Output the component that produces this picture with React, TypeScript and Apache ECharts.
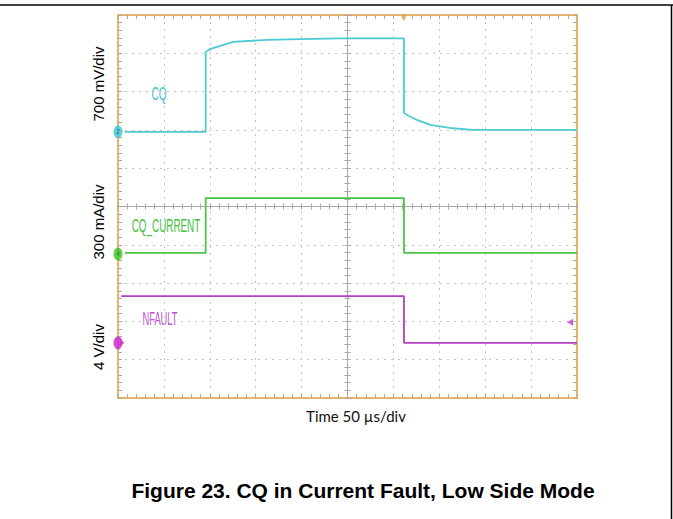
import React, { useEffect, useRef } from "react";
import * as echarts from "echarts";

// Oscilloscope traces, in screen divisions (x: -5..5 time div, y: -5..5 vertical div)
const cqX = [-4.85, -3.09, -3.09, -3.0, -2.49, -1.75, -1.03, -0.16, 1.23, 1.23, 1.3, 1.51, 1.8, 2.23, 2.73, 5.0];
const cqY = [1.95, 1.95, 4.03, 4.11, 4.3, 4.35, 4.37, 4.39, 4.39, 2.45, 2.39, 2.26, 2.13, 2.05, 2.0, 2.0];

const curX = [-4.85, -3.09, -3.09, 1.23, 1.23, 5.0];
const curY = [-1.21, -1.21, 0.22, 0.22, -1.21, -1.21];

const nfX = [-4.93, 1.23, 1.23, 5.0];
const nfY = [-2.34, -2.34, -3.56, -3.56];

// channel ground markers (left edge) and level markers
const chanNames = ["2", "4", ""];
const chanLevels = [1.95, -1.24, -3.56];
const chanColors = ["#3ec8d6", "#3fc41f", "#cc22cc"];
const trigLevel = [4.85, -3.02];
const trigTime = [1.23, 5];

const timeLabel = "Time 50 \u00b5s/div";
const scaleLabels = ["700 mV/div", "300 mA/div", "4 V/div"];
const caption = "Figure 23. CQ in Current Fault, Low Side Mode";

const ORANGE = "#e6b46c";
const CYAN = "#4ccbd5";
const GREEN = "#4cc446";
const MAGENTA = "#b23fc4";

const pair = (xs: number[], ys: number[]) => xs.map((x, i) => [x, ys[i]]);

export default function App() {
  const ref = useRef<HTMLDivElement>(null);
  useEffect(() => {
    if (!ref.current) return;
    const chart = echarts.init(ref.current, undefined, { renderer: "svg" });
    const gridBox = { left: 118, top: 15, width: 459, height: 383 };
    const borderAxis = (extra: any) => ({
      type: "value",
      min: -5,
      max: 5,
      interval: 1,
      axisLine: { show: true, onZero: false, lineStyle: { color: ORANGE, width: 2 } },
      axisTick: { show: true, inside: true, length: 4, lineStyle: { color: "#b9a58a", width: 1 } },
      minorTick: { show: true, splitNumber: 5, length: 4, lineStyle: { color: "#b9a58a", width: 1 } },
      axisLabel: { show: false },
      splitLine: { show: false },
      ...extra,
    });
    const centerAxis = (extra: any) => ({
      type: "value",
      min: -5,
      max: 5,
      interval: 1,
      axisLine: { show: true, onZero: true, lineStyle: { color: "#a8a8a8", width: 1 } },
      axisTick: { show: true, length: 3, lineStyle: { color: "#a8a8a8", width: 1 } },
      minorTick: { show: true, splitNumber: 5, length: 3, lineStyle: { color: "#a8a8a8", width: 1 } },
      axisLabel: { show: false },
      splitLine: { show: false },
      ...extra,
    });
    const grid = { lineStyle: { color: "#c4c4c4", width: 1, type: [2, 5] } };
    const labelFont = '19px "Liberation Sans", Arial, sans-serif';
    chart.setOption({
      animation: false,
      backgroundColor: "#ffffff",
      grid: [gridBox, gridBox, gridBox],
      xAxis: [
        borderAxis({ gridIndex: 0, position: "bottom", splitLine: { show: true, ...grid } }),
        borderAxis({ gridIndex: 0, position: "top" }),
        centerAxis({ gridIndex: 1, position: "bottom", axisTick: { show: true, inside: true, length: 3, lineStyle: { color: "#a8a8a8" } } }),
        centerAxis({ gridIndex: 2, position: "bottom", axisTick: { show: true, inside: false, length: 3, lineStyle: { color: "#a8a8a8" } } }),
      ],
      yAxis: [
        borderAxis({ gridIndex: 0, position: "left", splitLine: { show: true, ...grid } }),
        borderAxis({ gridIndex: 0, position: "right" }),
        centerAxis({ gridIndex: 1, position: "left", axisTick: { show: true, inside: true, length: 3, lineStyle: { color: "#a8a8a8" } } }),
        centerAxis({ gridIndex: 2, position: "left", axisTick: { show: true, inside: false, length: 3, lineStyle: { color: "#a8a8a8" } } }),
      ],
      series: [
        {
          name: "CQ",
          type: "line",
          xAxisIndex: 0,
          yAxisIndex: 0,
          data: pair(cqX, cqY),
          symbol: "none",
          lineStyle: { color: CYAN, width: 1.8 },
          z: 5,
        },
        {
          name: "CQ_CURRENT",
          type: "line",
          xAxisIndex: 0,
          yAxisIndex: 0,
          data: pair(curX, curY),
          symbol: "none",
          lineStyle: { color: GREEN, width: 1.8 },
          z: 5,
        },
        {
          name: "NFAULT",
          type: "line",
          xAxisIndex: 0,
          yAxisIndex: 0,
          data: pair(nfX, nfY),
          symbol: "none",
          lineStyle: { color: MAGENTA, width: 1.8 },
          z: 5,
        },
        {
          name: "markers",
          type: "scatter",
          xAxisIndex: 0,
          yAxisIndex: 0,
          clip: false,
          z: 8,
          data: chanLevels.map((v, i) => ({
            value: [-5, v],
            symbol: "circle",
            symbolSize: [9, 13],
            itemStyle: { color: chanColors[i] },
            label: {
              show: chanNames[i] !== "",
              formatter: chanNames[i],
              position: "inside",
              fontSize: 7,
              color: "#1d5f70",
            },
          })),
        },
        {
          name: "levels",
          type: "scatter",
          xAxisIndex: 0,
          yAxisIndex: 0,
          clip: false,
          z: 8,
          data: [
            { value: trigLevel, symbol: "triangle", symbolRotate: 90, symbolSize: [7, 6], itemStyle: { color: "#cc33cc" } },
            { value: trigTime, symbol: "triangle", symbolRotate: 180, symbolSize: [6, 7], symbolOffset: [0, 3], itemStyle: { color: "#e8a040" } },
            { value: [-4.9, chanLevels[2]], symbol: "triangle", symbolRotate: -90, symbolSize: [5, 4], itemStyle: { color: "#cc22cc" } },
          ],
        },
      ],
      graphic: [
        { type: "line", shape: { x1: 0, y1: 5, x2: 673, y2: 5 }, style: { stroke: "#000", lineWidth: 1.5 } },
        { type: "line", shape: { x1: 671.5, y1: 5, x2: 671.5, y2: 519 }, style: { stroke: "#000", lineWidth: 1.5 } },
        {
          type: "text", x: 98, y: 84, rotation: Math.PI / 2,
          style: { text: scaleLabels[0], fill: "#000", font: '15px "Liberation Sans", Arial, sans-serif', textAlign: "center", textVerticalAlign: "middle" },
        },
        {
          type: "text", x: 98, y: 222, rotation: Math.PI / 2,
          style: { text: scaleLabels[1], fill: "#000", font: '15px "Liberation Sans", Arial, sans-serif', textAlign: "center", textVerticalAlign: "middle" },
        },
        {
          type: "text", x: 98, y: 347, rotation: Math.PI / 2,
          style: { text: scaleLabels[2], fill: "#000", font: '15px "Liberation Sans", Arial, sans-serif', textAlign: "center", textVerticalAlign: "middle" },
        },
        {
          type: "text", x: 159, y: 93, scaleX: 0.53,
          style: { text: "CQ", fill: "#3fbfd0", font: labelFont, textAlign: "center", textVerticalAlign: "middle" },
        },
        {
          type: "text", x: 166, y: 225, scaleX: 0.52,
          style: { text: "CQ_CURRENT", fill: "#44c03c", font: labelFont, textAlign: "center", textVerticalAlign: "middle" },
        },
        {
          type: "text", x: 160, y: 318, scaleX: 0.49,
          style: { text: "NFAULT", fill: "#c050d0", font: labelFont, textAlign: "center", textVerticalAlign: "middle" },
        },
        {
          type: "text", x: 356, y: 416,
          style: { text: timeLabel, fill: "#111", font: '15px Lato, "Open Sans", sans-serif', textAlign: "center", textVerticalAlign: "middle" },
        },
        {
          type: "text", x: 363, y: 490,
          style: { text: caption, fill: "#000", font: 'bold 21px "Liberation Sans", Arial, sans-serif', textAlign: "center", textVerticalAlign: "middle" },
        },
      ],
    });
    return () => chart.dispose();
  }, []);
  return (
    <div
      ref={ref}
      style={{ position: "fixed", left: 0, top: 0, width: 673, height: 519, background: "#fff" }}
    />
  );
}
